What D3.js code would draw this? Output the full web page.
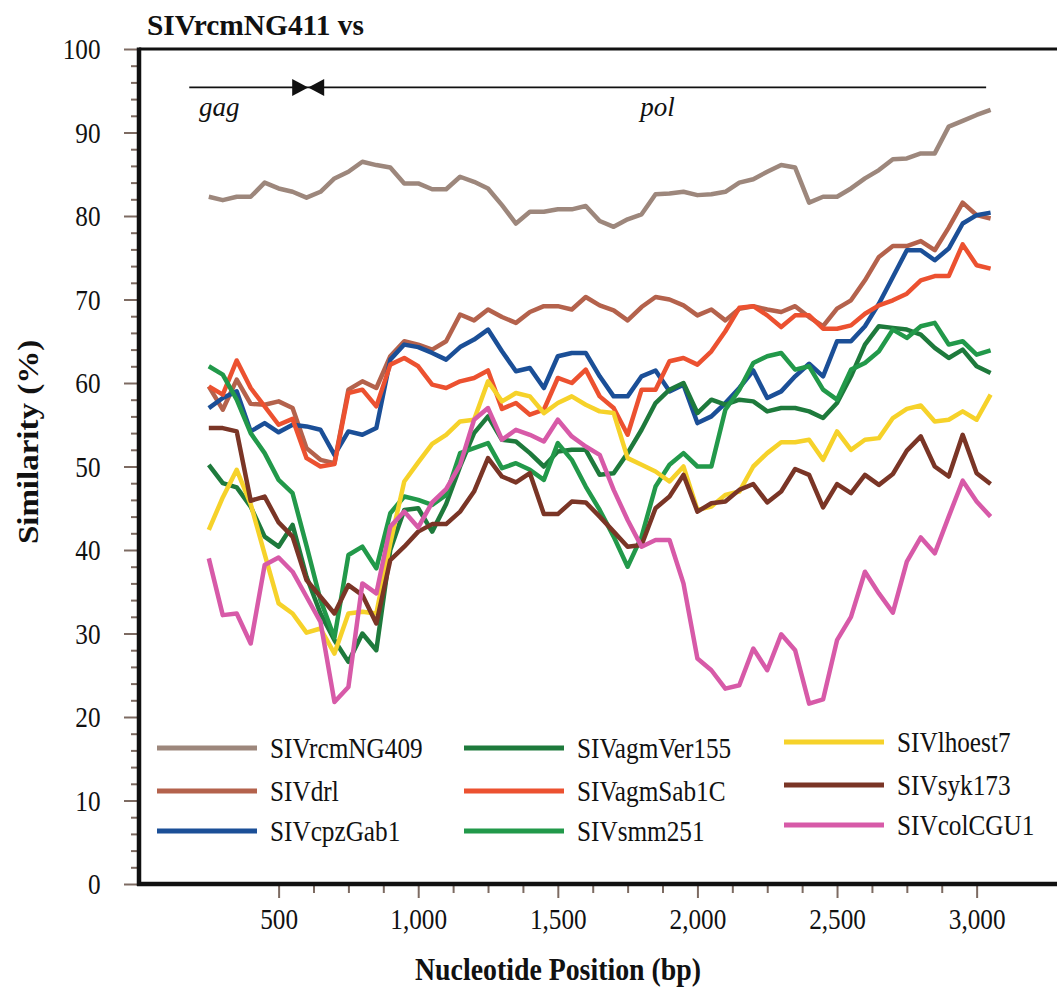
<!DOCTYPE html>
<html>
<head>
<meta charset="utf-8">
<script src="https://cdn.jsdelivr.net/npm/d3@7"></script>
<style>
  body { margin: 0; background: #fff; }
  svg { display: block; }
</style>
</head>
<body>
<div id="chart"></div>
<script>
// ========== Data: similarity (%) at each window midpoint (bp) ==========
var positions = [250, 300, 350, 400, 450, 500, 550, 600, 650, 700, 750, 800, 850, 900, 950,
  1000, 1050, 1100, 1150, 1200, 1250, 1300, 1350, 1400, 1450, 1500, 1550, 1600, 1650, 1700,
  1750, 1800, 1850, 1900, 1950, 2000, 2050, 2100, 2150, 2200, 2250, 2300, 2350, 2400, 2450,
  2500, 2550, 2600, 2650, 2700, 2750, 2800, 2850, 2900, 2950, 3000, 3050];

var rcmNG409 = [82.3, 81.9, 82.3, 82.3, 84.0, 83.3, 82.9, 82.2, 82.9, 84.5, 85.3, 86.5, 86.1, 85.8, 83.9,
  83.9, 83.2, 83.2, 84.7, 84.1, 83.3, 81.3, 79.1, 80.5, 80.5, 80.8, 80.8, 81.2, 79.4, 78.7,
  79.6, 80.2, 82.6, 82.7, 82.9, 82.5, 82.6, 82.9, 84.0, 84.4, 85.3, 86.1, 85.8, 81.6, 82.3,
  82.3, 83.3, 84.5, 85.5, 86.8, 86.9, 87.5, 87.5, 90.7, 91.4, 92.1, 92.7];

var drl = [59.6, 56.8, 60.4, 57.5, 57.4, 57.8, 57.0, 52.2, 50.8, 50.4, 59.2, 60.2, 59.4, 63.2, 65.0,
  64.6, 64.0, 65.0, 68.2, 67.5, 68.8, 67.9, 67.2, 68.5, 69.2, 69.2, 68.8, 70.3, 69.3, 68.7,
  67.5, 69.1, 70.3, 70.0, 69.3, 68.1, 68.8, 67.5, 68.9, 69.2, 68.8, 68.5, 69.2, 67.9, 66.8,
  68.9, 69.9, 72.3, 75.1, 76.4, 76.4, 77.0, 75.9, 78.6, 81.6, 80.1, 79.7];

var cpzGab1 = [57.0, 58.2, 59.0, 54.2, 55.2, 54.1, 55.0, 54.8, 54.4, 51.4, 54.2, 53.8, 54.6, 62.8, 64.6,
  64.3, 63.6, 62.8, 64.3, 65.2, 66.4, 63.8, 61.4, 61.8, 59.4, 63.2, 63.6, 63.6, 60.8, 58.4,
  58.4, 60.8, 61.5, 59.0, 59.8, 55.2, 56.0, 57.6, 59.4, 61.5, 58.2, 59.0, 60.8, 62.3, 60.8,
  65.0, 65.0, 66.8, 69.5, 72.7, 75.9, 75.9, 74.7, 76.1, 79.1, 80.1, 80.4];

var agmVer155 = [50.2, 48.0, 47.5, 45.2, 41.6, 40.4, 43.0, 36.8, 32.4, 29.2, 26.6, 30.0, 28.0, 40.0, 44.8,
  45.0, 42.2, 45.5, 50.0, 54.0, 56.0, 53.2, 53.0, 51.6, 50.0, 51.8, 52.0, 52.0, 49.0, 49.2,
  51.6, 54.4, 57.6, 59.2, 60.0, 56.4, 58.0, 57.4, 58.0, 57.8, 56.6, 57.0, 57.0, 56.6, 55.8,
  57.6, 60.8, 64.6, 66.8, 66.6, 66.4, 65.8, 64.2, 63.0, 64.0, 62.0, 61.2];

var agmSab1C = [59.6, 58.6, 62.7, 59.4, 57.2, 55.0, 55.7, 51.0, 50.0, 50.3, 58.8, 59.2, 57.2, 62.2, 63.0,
  62.0, 59.8, 59.4, 60.2, 60.6, 61.5, 56.9, 57.6, 56.2, 56.8, 60.6, 60.0, 61.6, 58.4, 57.0,
  53.8, 59.2, 59.2, 62.6, 63.0, 62.2, 63.8, 66.2, 69.0, 69.2, 68.1, 66.7, 68.1, 68.1, 66.5,
  66.5, 66.9, 68.3, 69.3, 69.9, 70.7, 72.3, 72.8, 72.8, 76.6, 74.1, 73.7];

var smm251 = [62.0, 61.0, 58.0, 54.0, 51.6, 48.4, 46.8, 40.5, 34.0, 29.5, 39.4, 40.4, 37.8, 44.4, 46.4,
  46.0, 45.4, 46.6, 51.6, 52.2, 52.8, 49.8, 50.4, 49.6, 48.4, 52.8, 50.8, 47.6, 44.8, 41.6,
  38.0, 41.6, 47.6, 50.2, 51.6, 50.0, 50.0, 56.8, 59.2, 62.4, 63.2, 63.6, 61.6, 62.0, 59.2,
  58.0, 61.6, 62.4, 63.8, 66.4, 65.4, 66.8, 67.2, 64.6, 65.0, 63.4, 63.9];

var lhoest7 = [42.4, 46.3, 49.6, 45.5, 39.5, 33.6, 32.4, 30.1, 30.6, 27.6, 32.4, 32.6, 32.4, 40.8, 48.2,
  50.5, 52.7, 53.8, 55.4, 55.6, 60.2, 57.8, 58.8, 58.4, 56.4, 57.6, 58.4, 57.4, 56.6, 56.4,
  51.0, 50.2, 49.4, 48.2, 50.0, 44.8, 45.2, 46.6, 47.0, 50.0, 51.6, 52.9, 52.9, 53.2, 50.8,
  54.2, 52.0, 53.2, 53.4, 55.8, 56.9, 57.3, 55.4, 55.6, 56.6, 55.6, 58.6];

var syk173 = [54.6, 54.6, 54.2, 45.9, 46.4, 43.3, 41.6, 36.4, 34.4, 32.4, 35.8, 34.6, 31.2, 38.8, 40.4,
  42.2, 43.1, 43.1, 44.6, 47.0, 51.0, 48.8, 48.1, 49.2, 44.3, 44.3, 45.8, 45.7, 44.0, 42.2,
  40.4, 40.6, 45.0, 46.4, 49.0, 44.6, 45.6, 45.8, 47.2, 47.9, 45.7, 47.0, 49.7, 49.0, 45.1,
  47.9, 46.8, 49.0, 47.8, 49.1, 51.9, 53.6, 50.0, 48.8, 53.8, 49.2, 47.9];

var colCGU1 = [39.0, 32.2, 32.4, 28.8, 38.2, 39.1, 37.4, 34.4, 31.4, 21.8, 23.6, 36.0, 34.8, 42.8, 44.6,
  42.7, 45.7, 47.3, 50.2, 55.6, 57.0, 53.2, 54.4, 53.8, 53.0, 55.6, 53.6, 52.4, 51.4, 47.2,
  43.6, 40.4, 41.2, 41.2, 36.0, 27.0, 25.6, 23.4, 23.8, 28.2, 25.6, 29.9, 28.0, 21.6, 22.1,
  29.2, 32.0, 37.4, 34.8, 32.5, 38.6, 41.5, 39.6, 44.0, 48.3, 45.8, 44.0];

var seriesNames = ["SIVrcmNG409", "SIVdrl", "SIVcpzGab1", "SIVagmVer155", "SIVagmSab1C",
  "SIVsmm251", "SIVlhoest7", "SIVsyk173", "SIVcolCGU1"];
var seriesValues = [rcmNG409, drl, cpzGab1, agmVer155, agmSab1C, smm251, lhoest7, syk173, colCGU1];
var seriesColors = ["#9d877c", "#b4624c", "#1b4f97", "#1e7a3c", "#ec5130",
  "#22994a", "#f6d22a", "#7a3526", "#d75aa8"];

var xTicks = [500, 1000, 1500, 2000, 2500, 3000];
var xMinorTicks = [625, 750, 875, 1125, 1250, 1375, 1625, 1750, 1875, 2125, 2250, 2375,
  2625, 2750, 2875];
var yTicks = [0, 10, 20, 30, 40, 50, 60, 70, 80, 90, 100];
var yMinorTicks = [2, 4, 6, 8, 12, 14, 16, 18, 22, 24, 26, 28, 32, 34, 36, 38, 42, 44, 46, 48,
  52, 54, 56, 58, 62, 64, 66, 68, 72, 74, 76, 78, 82, 84, 86, 88, 92, 94, 96, 98];

// gene map above the curves (bp)
var geneNames = ["gag", "pol"];
var geneStarts = [180, 606];
var geneEnds = [606, 3034];
var geneLabelAt = [215, 1795];

// ========== Chart setup ==========
var svgWidth = 1057;
var svgHeight = 993;
var serif = "'Liberation Serif', 'Times New Roman', serif";
var squeeze = 0.87;

var svg = d3.select("#chart").append("svg")
  .attr("width", svgWidth)
  .attr("height", svgHeight);

var xScale = d3.scaleLinear().domain([0, 3300]).range([139, 139 + 921.4]);
var yScale = d3.scaleLinear().domain([0, 100]).range([884, 49]);

var line = d3.line()
  .x(function(d, i) { return xScale(positions[i]); })
  .y(function(d) { return yScale(d); });

// ========== Axes ==========
var tickColor = "#7d6b62";

var xAxis = svg.append("g").attr("transform", "translate(0," + yScale(0) + ")")
  .call(d3.axisBottom(xScale).tickValues(xTicks).tickSize(14).tickFormat(d3.format(",")));
xAxis.select(".domain").remove();
xAxis.selectAll("line").attr("stroke", tickColor).attr("stroke-width", 2);
xAxis.selectAll("text")
  .attr("y", 45).attr("dy", 0)
  .attr("transform", "scale(" + squeeze + ",1)")
  .attr("font-family", serif).attr("font-size", 29).attr("fill", "#111");

var xMinor = svg.append("g").attr("transform", "translate(0," + yScale(0) + ")")
  .call(d3.axisBottom(xScale).tickValues(xMinorTicks).tickSize(9).tickFormat(""));
xMinor.select(".domain").remove();
xMinor.selectAll("line").attr("stroke", tickColor).attr("stroke-width", 2);

var yAxis = svg.append("g").attr("transform", "translate(" + xScale(0) + ",0)")
  .call(d3.axisLeft(yScale).tickValues(yTicks).tickSize(15));
yAxis.select(".domain").remove();
yAxis.selectAll("line").attr("stroke", tickColor).attr("stroke-width", 2);
yAxis.selectAll("text")
  .attr("x", -38.5 / squeeze).attr("dy", "0.33em")
  .attr("transform", "scale(" + squeeze + ",1)")
  .attr("font-family", serif).attr("font-size", 29).attr("fill", "#111");

var yMinor = svg.append("g").attr("transform", "translate(" + xScale(0) + ",0)")
  .call(d3.axisLeft(yScale).tickValues(yMinorTicks).tickSize(8).tickFormat(""));
yMinor.select(".domain").remove();
yMinor.selectAll("line").attr("stroke", tickColor).attr("stroke-width", 2);

// frame
svg.append("line")
  .attr("x1", xScale(0)).attr("x2", svgWidth)
  .attr("y1", yScale(100)).attr("y2", yScale(100))
  .attr("stroke", "#111").attr("stroke-width", 3);
svg.append("line")
  .attr("x1", xScale(0)).attr("x2", xScale(0))
  .attr("y1", yScale(100) - 1.5).attr("y2", yScale(0) + 2)
  .attr("stroke", "#111").attr("stroke-width", 4.5);
svg.append("line")
  .attr("x1", xScale(0) - 2).attr("x2", svgWidth)
  .attr("y1", yScale(0)).attr("y2", yScale(0))
  .attr("stroke", "#111").attr("stroke-width", 4.5);

// ========== Gene map ==========
var geneY = yScale(95.4);
svg.append("line")
  .attr("x1", xScale(geneStarts[0])).attr("x2", xScale(geneEnds[1]))
  .attr("y1", geneY).attr("y2", geneY)
  .attr("stroke", "#111").attr("stroke-width", 1.6);

var junction = xScale(geneEnds[0]);
svg.append("path")
  .attr("d", "M" + (junction - 16) + "," + (geneY - 8.5) + "L" + junction + "," + geneY +
    "L" + (junction - 16) + "," + (geneY + 8.5) + "Z")
  .attr("fill", "#111");
svg.append("path")
  .attr("d", "M" + (junction + 16) + "," + (geneY - 8.5) + "L" + junction + "," + geneY +
    "L" + (junction + 16) + "," + (geneY + 8.5) + "Z")
  .attr("fill", "#111");

svg.selectAll(".geneLabel")
  .data(geneNames)
  .enter()
  .append("text")
  .attr("class", "geneLabel")
  .attr("x", function(d, i) { return xScale(geneLabelAt[i]); })
  .attr("y", geneY + 29)
  .attr("font-family", serif)
  .attr("font-style", "italic")
  .attr("font-size", 27)
  .attr("fill", "#111")
  .text(function(d) { return d; });

// ========== Similarity curves ==========
svg.append("g")
  .selectAll("path")
  .data(seriesValues)
  .enter()
  .append("path")
  .attr("d", line)
  .attr("fill", "none")
  .attr("stroke", function(d, i) { return seriesColors[i]; })
  .attr("stroke-width", 4.5)
  .attr("stroke-linejoin", "round");

// ========== Legend (3 columns x 3 rows) ==========
var legendColX = [157, 464, 784];
var legendRowY = [748, 791, 831];
var legendColShift = [0, 0, -6];

var legend = svg.append("g")
  .selectAll("g")
  .data(seriesNames)
  .enter()
  .append("g")
  .attr("transform", function(d, i) {
    var c = Math.floor(i / 3), r = i % 3;
    return "translate(" + legendColX[c] + "," + (legendRowY[r] + legendColShift[c]) + ")";
  });

legend.append("line")
  .attr("x1", 0).attr("x2", 100)
  .attr("stroke", function(d, i) { return seriesColors[i]; })
  .attr("stroke-width", 5);

legend.append("text")
  .attr("x", 113 / squeeze)
  .attr("dy", "0.33em")
  .attr("transform", "scale(" + squeeze + ",1)")
  .attr("font-family", serif)
  .attr("font-size", 29)
  .attr("fill", "#111")
  .text(function(d) { return d; });

// ========== Titles ==========
svg.append("text")
  .attr("transform", "translate(147,35) scale(0.98,1)")
  .attr("font-family", serif)
  .attr("font-weight", "bold")
  .attr("font-size", 30)
  .attr("fill", "#111")
  .text("SIVrcmNG411 vs");

svg.append("text")
  .attr("transform", "translate(558,980) scale(" + squeeze + ",1)")
  .attr("text-anchor", "middle")
  .attr("font-family", serif)
  .attr("font-weight", "bold")
  .attr("font-size", 32)
  .attr("fill", "#111")
  .text("Nucleotide Position (bp)");

svg.append("text")
  .attr("transform", "translate(27.5,442) scale(" + squeeze + ",1) rotate(-90)")
  .attr("text-anchor", "middle")
  .attr("dy", "0.35em")
  .attr("font-family", serif)
  .attr("font-weight", "bold")
  .attr("font-size", 33)
  .attr("fill", "#111")
  .text("Similarity (%)");
</script>
</body>
</html>
